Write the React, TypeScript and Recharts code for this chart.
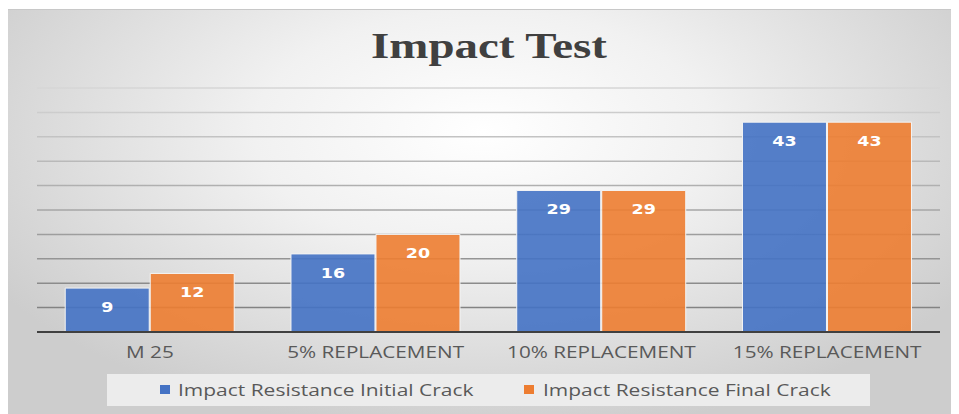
import { BarChart, Bar, XAxis, YAxis, CartesianGrid, Legend, LabelList } from "recharts";

const categories = ["M 25", "5% REPLACEMENT", "10% REPLACEMENT", "15% REPLACEMENT"];
const initialCrack = [9, 16, 29, 43];
const finalCrack = [12, 20, 29, 43];
const yTicks = [0, 5, 10, 15, 20, 25, 30, 35, 40, 45, 50];

const BLUE = "#4472C4";
const ORANGE = "#ED7D31";
const FONT = "'Open Sans', 'Noto Sans', sans-serif";

const data = categories.map((name, i) => ({
  name,
  initial: initialCrack[i],
  final: finalCrack[i],
}));

// the source picture is stretched sideways, so text gets a scaleX
const CategoryTick = (props: any) => {
  const { x, y, payload } = props;
  return (
    <text
      transform={`translate(${x} ${y + 18}) scale(1.22 1)`}
      textAnchor="middle"
      fill="#595959"
      fontSize={17}
      fontFamily={FONT}
    >
      {payload.value}
    </text>
  );
};

const ValueLabel = (props: any) => {
  const { x, y, width, value } = props;
  return (
    <text
      transform={`translate(${x + width / 2} ${y + 24}) scale(1.25 1)`}
      textAnchor="middle"
      fill="#ffffff"
      fontSize={14}
      fontWeight="bold"
      fontFamily="'DejaVu Sans', sans-serif"
    >
      {value}
    </text>
  );
};

const legendItems = [
  { c: BLUE, t: "Impact Resistance Initial Crack", sq: 53, tx: 71 },
  { c: ORANGE, t: "Impact Resistance Final Crack", sq: 417, tx: 436 },
];

const LegendBox = () => (
  <div style={{ position: "relative", background: "#ececec", height: 32, fontFamily: FONT, fontSize: 16, color: "#595959" }}>
    {legendItems.map((it) => (
      <div key={it.t}>
        <span style={{ position: "absolute", left: it.sq, top: 11, width: 10, height: 9, background: it.c }} />
        <span
          style={{
            position: "absolute",
            left: it.tx,
            top: 5,
            whiteSpace: "nowrap",
            transform: "scaleX(1.31)",
            transformOrigin: "left center",
          }}
        >
          {it.t}
        </span>
      </div>
    ))}
  </div>
);

export default function App() {
  return (
    <div
      style={{
        position: "relative",
        width: 952,
        height: 405,
        marginLeft: -1,
        marginTop: 1,
        borderTop: "1px solid #c8c8c8",
        background: "radial-gradient(ellipse 60% 75% at 50% 30%, #ffffff 0%, #f1f1f1 40%, #d9d9d9 80%, #cdcdcd 100%)",
      }}
    >
      <div
        style={{
          position: "absolute",
          top: 17,
          left: 0,
          width: 964,
          textAlign: "center",
          fontFamily: "'Liberation Serif', 'Times New Roman', serif",
          fontWeight: "bold",
          fontSize: 35,
          color: "#404040",
          transform: "scaleX(1.34)",
          transformOrigin: "482px 0",
        }}
      >
        Impact Test
      </div>
      <BarChart
        width={952}
        height={405}
        data={data}
        margin={{ top: 78, right: 19, left: 30, bottom: 9 }}
        barGap={1}
        barCategoryGap="12.5%"
      >
        <defs>
          <linearGradient id="gridGrad" gradientUnits="userSpaceOnUse" x1="0" y1="78" x2="0" y2="322">
            <stop offset="0%" stopColor="#d6d6d6" />
            <stop offset="50%" stopColor="#a6a6a6" />
            <stop offset="100%" stopColor="#7a7a7a" />
          </linearGradient>
        </defs>
        <CartesianGrid vertical={false} stroke="url(#gridGrad)" strokeWidth={1.5} />
        <YAxis hide domain={[0, 50]} ticks={yTicks} />
        <XAxis
          dataKey="name"
          height={42}
          tickLine={false}
          axisLine={{ stroke: "#404040", strokeWidth: 2 }}
          tick={<CategoryTick />}
        />
        <Legend
          verticalAlign="bottom"
          height={32}
          content={<LegendBox />}
          wrapperStyle={{ left: 100, width: 763, bottom: 9 }}
        />
        <Bar dataKey="initial" fill={BLUE} fillOpacity={0.9} stroke="#f4f4f4" strokeWidth={1} isAnimationActive={false}>
          <LabelList dataKey="initial" content={<ValueLabel />} />
        </Bar>
        <Bar dataKey="final" fill={ORANGE} fillOpacity={0.9} stroke="#f4f4f4" strokeWidth={1} isAnimationActive={false}>
          <LabelList dataKey="final" content={<ValueLabel />} />
        </Bar>
      </BarChart>
    </div>
  );
}
